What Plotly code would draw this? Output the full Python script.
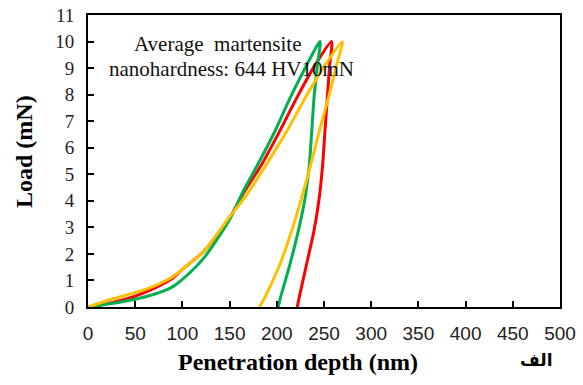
import plotly.graph_objects as go

# Load-displacement data (nm, mN): loading branch then unloading branch
green_load_x = [0, 25, 50, 70, 88, 100, 123, 150, 164.5, 180, 198, 214, 231.6, 245.8]
green_load_y = [0, 0.13, 0.29, 0.48, 0.73, 1.04, 1.86, 3.3, 4.37, 5.38, 6.62, 7.87, 9.11, 10.0]
green_unl_x = [243, 239.4, 237, 234.5, 230, 222.8, 214, 204, 201.6]
green_unl_y = [9.11, 7.87, 6.62, 5.37, 4.12, 2.87, 1.62, 0.37, 0]

red_load_x = [0, 25, 50, 70, 88, 100, 123, 150, 166, 184, 203, 221, 240.5, 258]
red_load_y = [0, 0.16, 0.41, 0.7, 1.04, 1.42, 2.11, 3.37, 4.37, 5.37, 6.62, 7.87, 9.11, 10.0]
red_unl_x = [256, 253.5, 251, 248.6, 245, 239.4, 231.6, 223.8, 221.7]
red_unl_y = [9.11, 7.87, 6.62, 5.37, 4.12, 2.87, 1.62, 0.37, 0]

orange_load_x = [0, 25, 50, 70, 88, 100, 123, 150, 166, 189, 210.5, 230, 251, 269.4]
orange_load_y = [0, 0.29, 0.54, 0.79, 1.1, 1.42, 2.11, 3.4, 4.12, 5.37, 6.62, 7.87, 9.11, 10.0]
orange_unl_x = [263.4, 254.6, 245, 236, 226.4, 215.8, 203.4, 187.5, 181.5]
orange_unl_y = [9.11, 7.87, 6.62, 5.37, 4.12, 2.87, 1.62, 0.37, 0]

x_ticks = list(range(0, 501, 50))
y_ticks = list(range(0, 12))

serif = "Liberation Serif, Times New Roman, serif"
sans = "Liberation Sans, Arial, sans-serif"

series = [
    (red_load_x + red_unl_x, red_load_y + red_unl_y, "#FF0000"),
    (green_load_x + green_unl_x, green_load_y + green_unl_y, "#00B050"),
    (orange_load_x + orange_unl_x, orange_load_y + orange_unl_y, "#FFC000"),
]

fig = go.Figure()
for xs, ys, col in series:
    fig.add_trace(go.Scatter(x=xs, y=ys, mode="lines",
                             line=dict(color=col, width=3, shape="spline", smoothing=0.7),
                             showlegend=False, hoverinfo="skip"))

fig.update_xaxes(range=[0, 500], tickvals=x_ticks, ticks="inside", ticklen=6, tickwidth=1.5,
                 tickcolor="black", showline=True, linecolor="black", linewidth=2, mirror=True,
                 showgrid=False, zeroline=False, ticklabelstandoff=8,
                 tickfont=dict(family=sans, size=19, color="#222"))
fig.update_yaxes(range=[0, 11], tickvals=y_ticks, ticks="inside", ticklen=6, tickwidth=1.5,
                 tickcolor="black", showline=True, linecolor="black", linewidth=2, mirror=True,
                 showgrid=False, zeroline=False, ticklabelstandoff=8,
                 tickfont=dict(family=serif, size=19, color="#222"))

fig.update_layout(
    width=583, height=385,
    margin=dict(l=88, r=23, t=15, b=78, autoexpand=False),
    plot_bgcolor="white", paper_bgcolor="white",
    annotations=[
        dict(text="Average\u00a0\u00a0martensite", x=137.7, y=9.91, xref="x", yref="y", showarrow=False,
             font=dict(family=serif, size=21, color="#111")),
        dict(text="nanohardness: 644 HV10mN", x=152.5, y=8.98, xref="x", yref="y", showarrow=False,
             font=dict(family=serif, size=21, color="#111")),
        dict(text="<b>Penetration depth (nm)</b>", x=298, y=362, xref="paper", yref="paper",
             showarrow=False, font=dict(family=serif, size=24, color="black")),
        dict(text="<b>Load (mN)</b>", x=24, y=152, xref="paper", yref="paper", textangle=-90,
             showarrow=False, font=dict(family=serif, size=24, color="black")),
        dict(text="<b>الف</b>", x=536, y=360, xref="paper", yref="paper",
             showarrow=False, font=dict(family="DejaVu Sans, Noto Sans, sans-serif", size=17, color="black")),
    ],
)

# convert pixel positions of paper annotations into paper coordinates
pw, ph = 583 - 88 - 23, 385 - 15 - 78
for a in fig.layout.annotations:
    if a.xref == "paper":
        a.x = (a.x - 88) / pw
        a.y = 1 - (a.y - 15) / ph
        a.xanchor = "center"
        a.yanchor = "middle"

fig.write_html("out.html", config={"displayModeBar": False},
               post_script="document.body.style.margin='0';")
